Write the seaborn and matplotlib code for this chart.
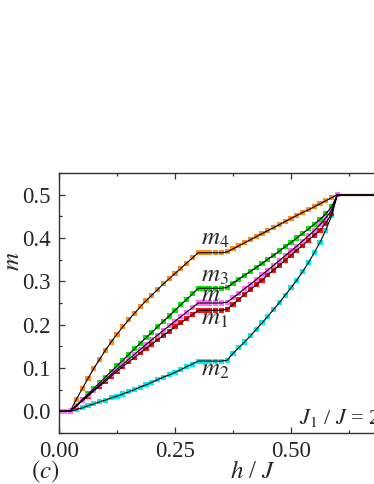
import numpy as np
import pandas as pd
import matplotlib
matplotlib.use("Agg")
import matplotlib.pyplot as plt
from matplotlib.ticker import MultipleLocator
import seaborn as sns

# Field values h/J (step 0.0125) shared by all sublattice curves
h = [0.0, 0.0125, 0.025, 0.0375, 0.05, 0.0625, 0.075, 0.0875, 0.1, 0.1125,
     0.125, 0.1375, 0.15, 0.1625, 0.175, 0.1875, 0.2, 0.2125, 0.225, 0.2375,
     0.25, 0.2625, 0.275, 0.2875, 0.3, 0.3125, 0.325, 0.3375, 0.35, 0.3625,
     0.375, 0.3875, 0.4, 0.4125, 0.425, 0.4375, 0.45, 0.4625, 0.475, 0.4875,
     0.5, 0.5125, 0.525, 0.5375, 0.55, 0.5625, 0.575, 0.5875, 0.6]

m4 = [0.0, 0.0, 0.002, 0.028, 0.052, 0.076, 0.099, 0.120, 0.141, 0.160,
      0.178, 0.195, 0.211, 0.226, 0.241, 0.255, 0.268, 0.281, 0.294, 0.306,
      0.318, 0.330, 0.342, 0.354, 0.366, 0.366, 0.366, 0.366, 0.366, 0.368,
      0.375, 0.382, 0.389, 0.396, 0.403, 0.410, 0.417, 0.424, 0.431, 0.438,
      0.445, 0.452, 0.459, 0.465, 0.472, 0.479, 0.486, 0.493, 0.5]

m3 = [0.0, 0.0, 0.001, 0.014, 0.027, 0.040, 0.053, 0.066, 0.079, 0.092,
      0.105, 0.118, 0.131, 0.144, 0.157, 0.170, 0.182, 0.195, 0.208, 0.220,
      0.233, 0.246, 0.258, 0.271, 0.284, 0.284, 0.284, 0.284, 0.284, 0.286,
      0.296, 0.305, 0.314, 0.323, 0.332, 0.341, 0.351, 0.360, 0.370, 0.380,
      0.390, 0.400, 0.410, 0.421, 0.432, 0.443, 0.456, 0.472, 0.5]

m5 = [0.0, 0.0, 0.001, 0.013, 0.025, 0.037, 0.049, 0.061, 0.073, 0.085,
      0.097, 0.108, 0.120, 0.131, 0.143, 0.154, 0.165, 0.176, 0.187, 0.197,
      0.208, 0.218, 0.229, 0.239, 0.250, 0.250, 0.250, 0.250, 0.250, 0.252,
      0.262, 0.272, 0.283, 0.293, 0.304, 0.315, 0.326, 0.337, 0.348, 0.359,
      0.370, 0.381, 0.393, 0.405, 0.417, 0.431, 0.446, 0.464, 0.5]

m1 = [0.0, 0.0, 0.001, 0.012, 0.024, 0.035, 0.047, 0.058, 0.069, 0.081,
      0.092, 0.103, 0.114, 0.124, 0.135, 0.145, 0.155, 0.165, 0.175, 0.185,
      0.195, 0.204, 0.214, 0.223, 0.233, 0.233, 0.233, 0.233, 0.233, 0.236,
      0.247, 0.258, 0.270, 0.281, 0.292, 0.303, 0.315, 0.326, 0.337, 0.349,
      0.360, 0.372, 0.383, 0.395, 0.406, 0.418, 0.434, 0.456, 0.5]

m2 = [0.0, 0.0, 0.0, 0.004, 0.008, 0.013, 0.017, 0.022, 0.026, 0.031,
      0.035, 0.040, 0.045, 0.050, 0.056, 0.061, 0.067, 0.073, 0.079, 0.084,
      0.090, 0.096, 0.103, 0.109, 0.116, 0.116, 0.116, 0.116, 0.116, 0.118,
      0.134, 0.147, 0.160, 0.174, 0.189, 0.204, 0.219, 0.235, 0.251, 0.268,
      0.285, 0.303, 0.322, 0.343, 0.366, 0.390, 0.418, 0.452, 0.5]

# saturation plateau
h_sat = [0.6, 0.75]
m_sat = [0.5, 0.5]

series = [("m4", m4, "#ff8c1e"), ("m3", m3, "#00ee00"), ("m2", m2, "#00f0f0"),
          ("m1", m1, "#ff1010"), ("m", m5, "#ff70ff")]

labels = [(0.307, 0.385, "$m_4$"), (0.307, 0.300, "$m_3$"), (0.307, 0.254, "$m$"),
          (0.307, 0.201, "$m_1$"), (0.307, 0.082, "$m_2$")]

sns.set_theme(style="ticks")
plt.rcParams["font.family"] = ["Liberation Serif", "DejaVu Serif"]
plt.rcParams["mathtext.fontset"] = "stix"

fig = plt.figure(figsize=(3.74, 4.84), dpi=100)
ax = fig.add_axes([59 / 374, 51 / 484, 348 / 374, 260 / 484])

for name, m, col in series:
    df = pd.DataFrame({"h": h, "m": m})
    sns.scatterplot(data=df, x="h", y="m", marker="s", s=13, color=col,
                    edgecolor="none", linewidth=0, ax=ax, zorder=2)
    sns.lineplot(data=df, x="h", y="m", color="black", linewidth=0.8,
                 estimator=None, sort=False, ax=ax, zorder=3)

sns.lineplot(x=h_sat, y=m_sat, color="#1a0a0a", linewidth=1.6,
             estimator=None, sort=False, ax=ax, zorder=3)

for x, y, t in labels:
    ax.text(x, y, t, fontsize=18, va="baseline", ha="left", zorder=4)

ax.text(0.518, -0.03, "$J_1$ / $J$ = 2", fontsize=16, va="baseline", ha="left")

ax.set_xlim(0, 0.75)
ax.set_ylim(-0.05, 0.55)
ax.xaxis.set_major_locator(MultipleLocator(0.25))
ax.xaxis.set_minor_locator(MultipleLocator(0.125))
ax.yaxis.set_major_locator(MultipleLocator(0.1))
ax.yaxis.set_minor_locator(MultipleLocator(0.05))
ax.xaxis.set_major_formatter(matplotlib.ticker.FormatStrFormatter("%.2f"))
ax.yaxis.set_major_formatter(matplotlib.ticker.FormatStrFormatter("%.1f"))
ax.tick_params(which="both", direction="in", top=True, right=True,
               labelsize=16.5, color="#333333", width=0.9, pad=6)
ax.tick_params(which="major", length=4)
ax.tick_params(which="minor", length=2.5)
for sp in ax.spines.values():
    sp.set_color("#333333")
    sp.set_linewidth(1.0)

ax.set_xlabel("")
ax.set_ylabel("$m$", fontsize=18, rotation=90)
ax.yaxis.set_label_coords(-0.10, 0.66)

fig.text(253 / 374, 1 - 472 / 484, "$h$ / $J$", fontsize=18, ha="center", va="center")
fig.text(45 / 374, 1 - 472 / 484, "$(c)$", fontsize=18, ha="center", va="center")

fig.savefig("out.png", dpi=100)
